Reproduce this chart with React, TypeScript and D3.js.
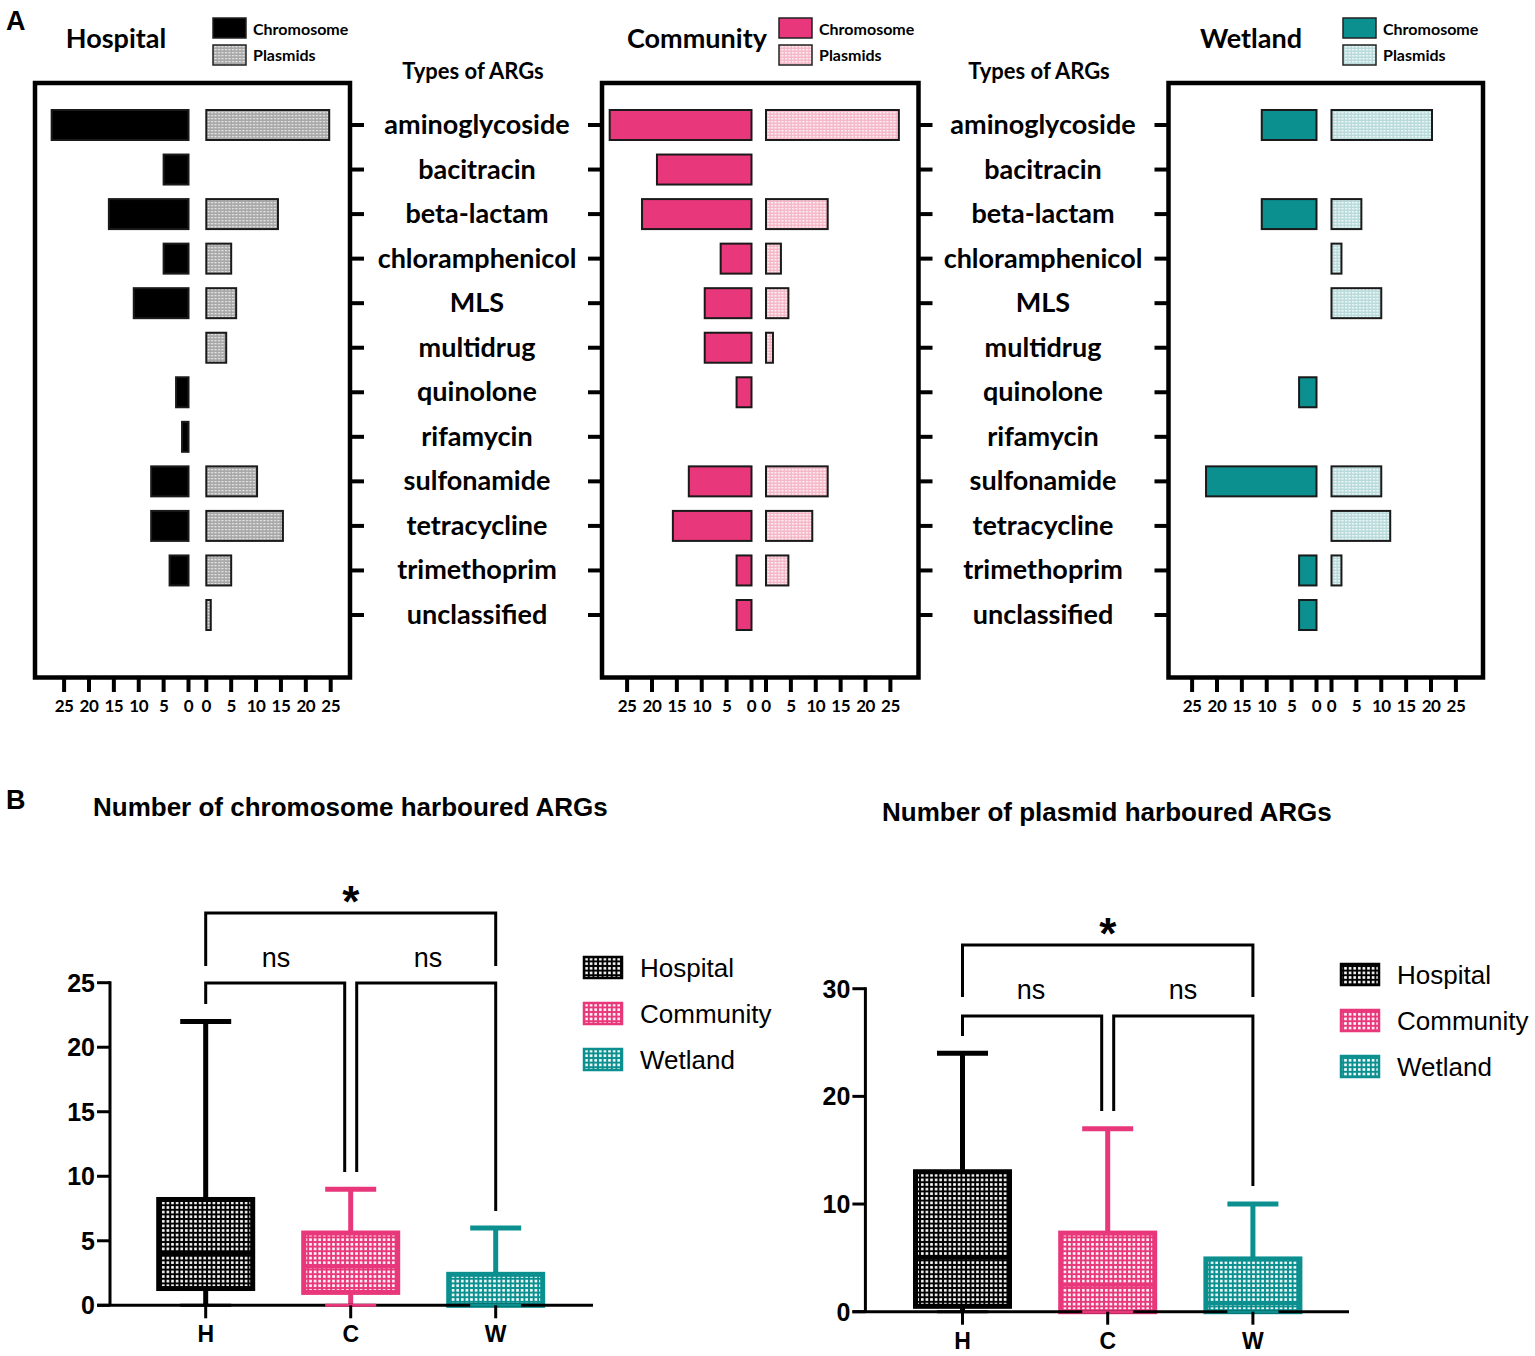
import { useEffect, useRef } from 'react';
import { scaleLinear, scalePoint, select } from 'd3';

const categories = [
  'aminoglycoside',
  'bacitracin',
  'beta-lactam',
  'chloramphenicol',
  'MLS',
  'multidrug',
  'quinolone',
  'rifamycin',
  'sulfonamide',
  'tetracycline',
  'trimethoprim',
  'unclassified',
];

const hospitalChromosome = [27.5, 5, 16, 5, 11, 0, 2.5, 1.3, 7.5, 7.5, 3.8, 0];
const hospitalPlasmids = [24.7, 0, 14.4, 5, 6, 4, 0, 0, 10.2, 15.4, 5, 0.9];
const communityChromosome = [28.5, 19, 22, 6.2, 9.4, 9.4, 3, 0, 12.6, 15.8, 3, 3];
const communityPlasmids = [26.7, 0, 12.4, 3, 4.5, 1.4, 0, 0, 12.4, 9.3, 4.5, 0];
const wetlandChromosome = [11, 0, 11, 0, 0, 0, 3.5, 0, 22.2, 0, 3.5, 3.5];
const wetlandPlasmids = [20.2, 0, 6, 2, 10, 0, 0, 0, 10, 11.8, 2, 0];

const axisTicks = [0, 5, 10, 15, 20, 25];

const groups = ['H', 'C', 'W'];
const groupNames = ['Hospital', 'Community', 'Wetland'];

// box stats: [min, q1, median, q3, max]
const chromosomeStats = [
  [0, 1.3, 4, 8.2, 22],
  [0, 1, 3, 5.6, 9],
  [0, 0, 0, 2.4, 6],
];
const plasmidStats = [
  [0, 0.5, 5, 13, 24],
  [0, 0, 2.5, 7.3, 17],
  [0, 0, 0.8, 4.9, 10],
];
const chromosomeTicks = [0, 5, 10, 15, 20, 25];
const plasmidTicks = [0, 10, 20, 30];

const BLACK = '#000000';
const PINK = '#e8377a';
const TEAL = '#0b8f8f';

const fontA = "Lato, 'Open Sans', sans-serif";
const fontB = "'Liberation Sans', Arial, sans-serif";

export default function App() {
  const svgRef = useRef<SVGSVGElement>(null);

  useEffect(() => {
    const el = svgRef.current;
    if (!el) return;
    const svg = select(el);
    svg.selectAll('*').remove();

    const defs = svg.append('defs');
    const dotPattern = (id: string, base: string, dot: string, w: number, h: number, dw: number, dh: number) => {
      const p = defs
        .append('pattern')
        .attr('id', id)
        .attr('patternUnits', 'userSpaceOnUse')
        .attr('width', w)
        .attr('height', h);
      p.append('rect').attr('width', w).attr('height', h).attr('fill', base);
      p.append('rect').attr('x', 1).attr('y', 1).attr('width', dw).attr('height', dh).attr('fill', dot);
    };
    dotPattern('plasH', '#a8a8a8', '#e6e6e6', 3.5, 3, 2, 1.3);
    dotPattern('plasC', '#f4b8c8', '#fff2f5', 3.5, 3, 2, 1.5);
    dotPattern('plasW', '#b9dada', '#f2fafa', 3.5, 3, 2, 1.5);
    dotPattern('boxH', BLACK, '#ffffff', 4.6, 4.6, 2.6, 2.6);
    dotPattern('boxC', PINK, '#ffffff', 4.6, 4.6, 2.6, 2.6);
    dotPattern('boxW', TEAL, '#ffffff', 4.6, 4.6, 2.6, 2.6);

    // ---------- Panel A ----------
    const y = scalePoint<string>().domain(categories).range([125, 615]);
    const barH = 30;
    const unit = 124.4 / 25;

    const panels = [
      {
        title: 'Hospital', titleX: 116, left: 35, right: 350, chromZero: 188.5, plasZero: 206.3,
        chrom: hospitalChromosome, plas: hospitalPlasmids, color: BLACK, pat: 'url(#plasH)',
        legendX: 213, ticksLeft: false, ticksRight: true,
      },
      {
        title: 'Community', titleX: 697, left: 602, right: 918.5, chromZero: 751.5, plasZero: 766,
        chrom: communityChromosome, plas: communityPlasmids, color: PINK, pat: 'url(#plasC)',
        legendX: 779, ticksLeft: true, ticksRight: true,
      },
      {
        title: 'Wetland', titleX: 1251, left: 1168.5, right: 1483, chromZero: 1316.5, plasZero: 1331.5,
        chrom: wetlandChromosome, plas: wetlandPlasmids, color: TEAL, pat: 'url(#plasW)',
        legendX: 1343, ticksLeft: true, ticksRight: false,
      },
    ];

    svg.append('text').attr('x', 6).attr('y', 30).attr('font-family', fontB)
      .attr('font-weight', 700).attr('font-size', 27).text('A');

    panels.forEach((p) => {
      const g = svg.append('g');
      const xc = scaleLinear().domain([0, 25]).range([p.chromZero, p.chromZero - 25 * unit]);
      const xp = scaleLinear().domain([0, 25]).range([p.plasZero, p.plasZero + 25 * unit]);

      g.append('text').attr('x', p.titleX).attr('y', 48).attr('text-anchor', 'middle')
        .attr('font-family', fontA).attr('font-weight', 700).attr('font-size', 27).text(p.title);

      // legend
      g.append('rect').attr('x', p.legendX).attr('y', 18).attr('width', 33).attr('height', 20)
        .attr('fill', p.color).attr('stroke', '#222').attr('stroke-width', 1.5);
      g.append('rect').attr('x', p.legendX).attr('y', 45).attr('width', 33).attr('height', 20)
        .attr('fill', p.pat).attr('stroke', '#222').attr('stroke-width', 1.5);
      g.append('text').attr('x', p.legendX + 40).attr('y', 35).attr('font-family', fontA)
        .attr('font-weight', 700).attr('font-size', 16).text('Chromosome');
      g.append('text').attr('x', p.legendX + 40).attr('y', 61).attr('font-family', fontA)
        .attr('font-weight', 700).attr('font-size', 16).text('Plasmids');

      // bars
      g.selectAll('rect.chrom')
        .data(categories.map((c, i) => ({ c, v: p.chrom[i] })).filter((d) => d.v > 0))
        .join('rect')
        .attr('class', 'chrom')
        .attr('x', (d) => xc(d.v))
        .attr('y', (d) => (y(d.c) || 0) - barH / 2)
        .attr('width', (d) => xc(0) - xc(d.v))
        .attr('height', barH)
        .attr('fill', p.color)
        .attr('stroke', '#1a1a1a')
        .attr('stroke-width', 2);
      g.selectAll('rect.plas')
        .data(categories.map((c, i) => ({ c, v: p.plas[i] })).filter((d) => d.v > 0))
        .join('rect')
        .attr('class', 'plas')
        .attr('x', xp(0))
        .attr('y', (d) => (y(d.c) || 0) - barH / 2)
        .attr('width', (d) => xp(d.v) - xp(0))
        .attr('height', barH)
        .attr('fill', p.pat)
        .attr('stroke', '#1a1a1a')
        .attr('stroke-width', 2);

      // frame
      g.append('rect').attr('x', p.left).attr('y', 83).attr('width', p.right - p.left)
        .attr('height', 677.5 - 83).attr('fill', 'none').attr('stroke', '#000').attr('stroke-width', 4.5);

      // side ticks
      categories.forEach((c) => {
        if (p.ticksRight) {
          g.append('line').attr('x1', p.right).attr('x2', p.right + 14).attr('y1', y(c) || 0)
            .attr('y2', y(c) || 0).attr('stroke', '#000').attr('stroke-width', 4);
        }
        if (p.ticksLeft) {
          g.append('line').attr('x1', p.left - 14).attr('x2', p.left).attr('y1', y(c) || 0)
            .attr('y2', y(c) || 0).attr('stroke', '#000').attr('stroke-width', 4);
        }
      });

      // bottom axes
      [xc, xp].forEach((sc) => {
        axisTicks.forEach((t) => {
          g.append('line').attr('x1', sc(t)).attr('x2', sc(t)).attr('y1', 677).attr('y2', 692)
            .attr('stroke', '#000').attr('stroke-width', 4);
          g.append('text').attr('x', sc(t)).attr('y', 712).attr('text-anchor', 'middle')
            .attr('font-family', fontA).attr('font-weight', 700).attr('font-size', 17)
            .attr('letter-spacing', -0.5).text(t);
        });
      });
    });

    // category labels and headers
    [477, 1043].forEach((cx) => {
      svg.append('text').attr('x', cx - 4).attr('y', 79).attr('text-anchor', 'middle')
        .attr('font-family', fontA).attr('font-weight', 700).attr('font-size', 22).text('Types of ARGs');
      svg.append('g').selectAll('text').data(categories).join('text')
        .attr('x', cx).attr('y', (d) => (y(d) || 0) + 9).attr('text-anchor', 'middle')
        .attr('font-family', fontA).attr('font-weight', 700).attr('font-size', 27).text((d) => d);
    });

    // ---------- Panel B ----------
    svg.append('text').attr('x', 6).attr('y', 809).attr('font-family', fontB)
      .attr('font-weight', 700).attr('font-size', 27).text('B');

    const boxCharts = [
      {
        title: 'Number of chromosome harboured ARGs', titleX: 93, titleY: 816,
        axisX: 110, xRange: [205.7, 495.7], xEnd: 593, yRange: [1305.3, 982.7], max: 25,
        ticks: chromosomeTicks, stats: chromosomeStats,
        topY: 913, topLeg: 966, lowY: 983, lowLegs: [1004, 1172, 1172, 1211],
        starY: 913, nsY: 967, nsX: [276, 428], legendX: 583, legendY: 956,
      },
      {
        title: 'Number of plasmid harboured ARGs', titleX: 882, titleY: 821,
        axisX: 865.4, xRange: [962.5, 1252.9], xEnd: 1349, yRange: [1311.7, 988.7], max: 30,
        ticks: plasmidTicks, stats: plasmidStats,
        topY: 945, topLeg: 997, lowY: 1016, lowLegs: [1036, 1111, 1111, 1186],
        starY: 945, nsY: 999, nsX: [1031, 1183], legendX: 1340, legendY: 963,
      },
    ];
    const colors = [BLACK, PINK, TEAL];
    const pats = ['url(#boxH)', 'url(#boxC)', 'url(#boxW)'];

    boxCharts.forEach((bc) => {
      const g = svg.append('g');
      const x = scalePoint<string>().domain(groups).range(bc.xRange as [number, number]);
      const yy = scaleLinear().domain([0, bc.max]).range(bc.yRange as [number, number]);
      const boxW = 94;
      const capW = 51;

      g.append('text').attr('x', bc.titleX).attr('y', bc.titleY).attr('font-family', fontB)
        .attr('font-weight', 700).attr('font-size', 26).text(bc.title);

      // boxes
      groups.forEach((gr, i) => {
        const [mn, q1, md, q3, mx] = bc.stats[i];
        const cx = x(gr) || 0;
        const c = colors[i];
        g.append('line').attr('x1', cx).attr('x2', cx).attr('y1', yy(q3)).attr('y2', yy(mx))
          .attr('stroke', c).attr('stroke-width', 5);
        g.append('line').attr('x1', cx - capW / 2).attr('x2', cx + capW / 2).attr('y1', yy(mx))
          .attr('y2', yy(mx)).attr('stroke', c).attr('stroke-width', 5);
        g.append('line').attr('x1', cx).attr('x2', cx).attr('y1', yy(mn)).attr('y2', yy(q1))
          .attr('stroke', c).attr('stroke-width', 5);
        g.append('rect').attr('x', cx - boxW / 2).attr('y', yy(q3)).attr('width', boxW)
          .attr('height', Math.max(yy(q1) - yy(q3), 0)).attr('fill', pats[i])
          .attr('stroke', c).attr('stroke-width', 5);
        g.append('line').attr('x1', cx - boxW / 2).attr('x2', cx + boxW / 2).attr('y1', yy(md))
          .attr('y2', yy(md)).attr('stroke', c).attr('stroke-width', 4);
      });

      // axes
      g.append('line').attr('x1', bc.axisX).attr('x2', bc.axisX).attr('y1', yy(bc.max) - 1.5)
        .attr('y2', yy(0)).attr('stroke', '#000').attr('stroke-width', 3);
      g.append('line').attr('x1', bc.axisX - 13).attr('x2', bc.xEnd).attr('y1', yy(0))
        .attr('y2', yy(0)).attr('stroke', '#000').attr('stroke-width', 3);
      groups.forEach((gr, i) => {
        const [mn] = bc.stats[i];
        const cx = x(gr) || 0;
        g.append('line').attr('x1', cx - capW / 2).attr('x2', cx + capW / 2).attr('y1', yy(mn))
          .attr('y2', yy(mn)).attr('stroke', colors[i]).attr('stroke-width', 3);
      });
      bc.ticks.forEach((t) => {
        g.append('line').attr('x1', bc.axisX - 13).attr('x2', bc.axisX).attr('y1', yy(t))
          .attr('y2', yy(t)).attr('stroke', '#000').attr('stroke-width', 3);
        g.append('text').attr('x', bc.axisX - 15).attr('y', yy(t) + 9).attr('text-anchor', 'end')
          .attr('font-family', fontB).attr('font-weight', 700).attr('font-size', 25).text(t);
      });
      groups.forEach((gr) => {
        const cx = x(gr) || 0;
        g.append('line').attr('x1', cx).attr('x2', cx).attr('y1', yy(0)).attr('y2', yy(0) + 13)
          .attr('stroke', '#000').attr('stroke-width', 3);
        g.append('text').attr('x', cx).attr('y', yy(0) + 37).attr('text-anchor', 'middle')
          .attr('font-family', fontB).attr('font-weight', 700).attr('font-size', 23).text(gr);
      });

      // significance brackets
      const xH = x('H') || 0;
      const xC = x('C') || 0;
      const xW = x('W') || 0;
      const bracket = (x1: number, x2: number, top: number, l1: number, l2: number) =>
        g.append('path')
          .attr('d', `M${x1},${l1}V${top}H${x2}V${l2}`)
          .attr('fill', 'none').attr('stroke', '#000').attr('stroke-width', 3);
      bracket(xH, xW, bc.topY, bc.topLeg, bc.topLeg);
      bracket(xH, xC - 6, bc.lowY, bc.lowLegs[0], bc.lowLegs[1]);
      bracket(xC + 6, xW, bc.lowY, bc.lowLegs[2], bc.lowLegs[3]);
      g.append('text').attr('x', xC).attr('y', bc.starY + 4).attr('text-anchor', 'middle')
        .attr('font-family', fontB).attr('font-weight', 700).attr('font-size', 44).text('*');
      bc.nsX.forEach((nx) => {
        g.append('text').attr('x', nx).attr('y', bc.nsY).attr('text-anchor', 'middle')
          .attr('font-family', fontB).attr('font-size', 27).text('ns');
      });

      // legend
      groupNames.forEach((n, i) => {
        const ly = bc.legendY + i * 46;
        g.append('rect').attr('x', bc.legendX + 1).attr('y', ly + 1).attr('width', 38).attr('height', 21)
          .attr('fill', pats[i]).attr('stroke', colors[i]).attr('stroke-width', 2.5);
        g.append('text').attr('x', bc.legendX + 57).attr('y', ly + 21).attr('font-family', fontB)
          .attr('font-size', 26).text(n);
      });
    });
  }, []);

  return (
    <svg
      ref={svgRef}
      width={1535}
      height={1356}
      style={{ position: 'absolute', left: 0, top: 0, background: '#fff' }}
    />
  );
}
